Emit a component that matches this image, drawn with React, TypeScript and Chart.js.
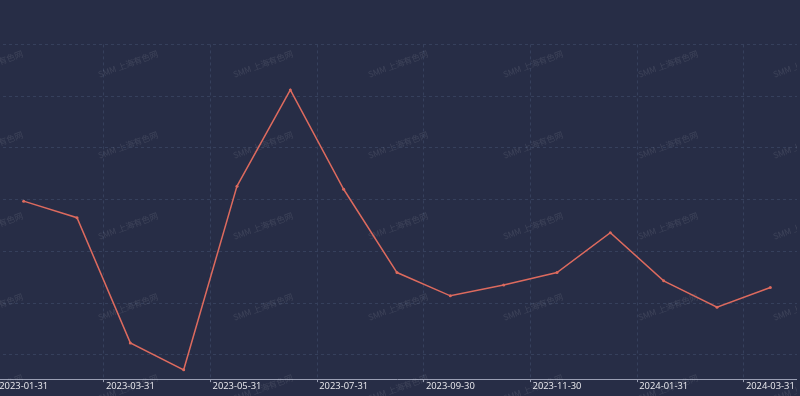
import React, { useEffect, useRef } from "react";
import { Chart, registerables } from "chart.js";

Chart.register(...registerables);

const categories: string[] = [
  "2023-01-31", "2023-02-28", "2023-03-31", "2023-04-30", "2023-05-31",
  "2023-06-30", "2023-07-31", "2023-08-31", "2023-09-30", "2023-10-31",
  "2023-11-30", "2023-12-31", "2024-01-31", "2024-02-29", "2024-03-31",
];

const seriesValues: number[] = [
  89.7, 86.5, 62.3, 57.1, 92.6, 111.2, 92.0, 75.9, 71.4, 73.5, 75.9, 83.6, 74.3, 69.2, 73.0,
];

const watermarkText = "SMM 上海有色网";

const BG = "#272d46";
const GRID = "#36405c";
const AXIS = "#9a9fb4";
const LINE = "#dc6a5e";
const OFFSET_X = -3;

const watermarkPlugin = {
  id: "watermark",
  beforeDraw(chart: any) {
    const { ctx, width, height } = chart;
    ctx.save();
    ctx.fillStyle = BG;
    ctx.fillRect(0, 0, width, height);
    ctx.restore();
  },
  beforeDatasetsDraw(chart: any) {
    const { ctx } = chart;
    ctx.save();
    ctx.font = '8.5px "Noto Sans CJK SC", "Noto Sans", sans-serif';
    ctx.fillStyle = "rgba(255,255,255,0.1)";
    ctx.textAlign = "center";
    ctx.textBaseline = "middle";
    for (let col = -1; col < 6; col++) {
      for (let row = 0; row < 5; row++) {
        const x = 128 + col * 135 - OFFSET_X;
        const y = 64 + row * 81;
        ctx.save();
        ctx.translate(x, y);
        ctx.rotate((-20 * Math.PI) / 180);
        ctx.fillText(watermarkText, 0, 0);
        ctx.restore();
      }
    }
    ctx.restore();
  },
};

export default function App() {
  const canvasRef = useRef<HTMLCanvasElement | null>(null);

  useEffect(() => {
    if (!canvasRef.current) return;
    const gridVisible = (c: any) =>
      c.type !== "tick" || c.index % 2 === 0 ? GRID : "rgba(0,0,0,0)";
    const tickVisible = (c: any) =>
      c.type !== "tick" || c.index % 2 === 0 ? AXIS : "rgba(0,0,0,0)";
    const chart = new Chart(canvasRef.current, {
      type: "line",
      data: {
        labels: categories,
        datasets: [
          {
            data: seriesValues,
            borderColor: LINE,
            backgroundColor: LINE,
            borderWidth: 1.5,
            pointRadius: 1.5,
            pointBorderWidth: 0,
            pointBackgroundColor: LINE,
            tension: 0,
            fill: false,
          },
        ],
      },
      options: {
        animation: false,
        responsive: true,
        maintainAspectRatio: false,
        layout: { autoPadding: false, padding: { top: 44.4, left: 0, right: 0, bottom: 4.6 } },
        plugins: {
          legend: { display: false },
          tooltip: { enabled: false },
        },
        scales: {
          x: {
            type: "category",
            offset: true,
            afterFit: (scale: any) => {
              scale.paddingLeft = 0;
              scale.paddingRight = 0;
            },
            grid: {
              offset: true,
              color: gridVisible,
              tickColor: tickVisible,
              tickLength: 3,
              drawTicks: true,
              lineWidth: 1,
            },
            border: { display: true, color: AXIS, width: 1, dash: [3, 3] },
            ticks: {
              autoSkip: false,
              maxRotation: 0,
              minRotation: 0,
              padding: -1,
              color: "#ececf0",
              font: { family: '"Open Sans", "Noto Sans", sans-serif', size: 9.4 },
              callback: function (this: any, val: any, index: number) {
                return index % 2 === 0 ? this.getLabelForValue(val) : "";
              },
            },
          },
          y: {
            type: "linear",
            min: 55.3,
            max: 120,
            afterBuildTicks: (scale: any) => {
              scale.ticks = scale.ticks.filter((t: any) => Math.abs(t.value % 10) < 1e-6);
            },
            afterFit: (scale: any) => {
              scale.width = 0;
              scale.paddingTop = 0;
              scale.paddingBottom = 0;
            },
            ticks: { display: false, stepSize: 10 },
            grid: { color: GRID, drawTicks: false, lineWidth: 1 },
            border: { display: false, dash: [3, 3] },
          },
        },
      },
      plugins: [watermarkPlugin],
    } as any);
    return () => chart.destroy();
  }, []);

  return (
    <div
      style={{
        position: "fixed",
        left: 0,
        top: 0,
        width: 800,
        height: 396,
        background: BG,
        overflow: "hidden",
      }}
    >
      <div style={{ position: "absolute", left: OFFSET_X, top: 0, width: 800, height: 396 }}>
        <canvas ref={canvasRef} />
      </div>
    </div>
  );
}
